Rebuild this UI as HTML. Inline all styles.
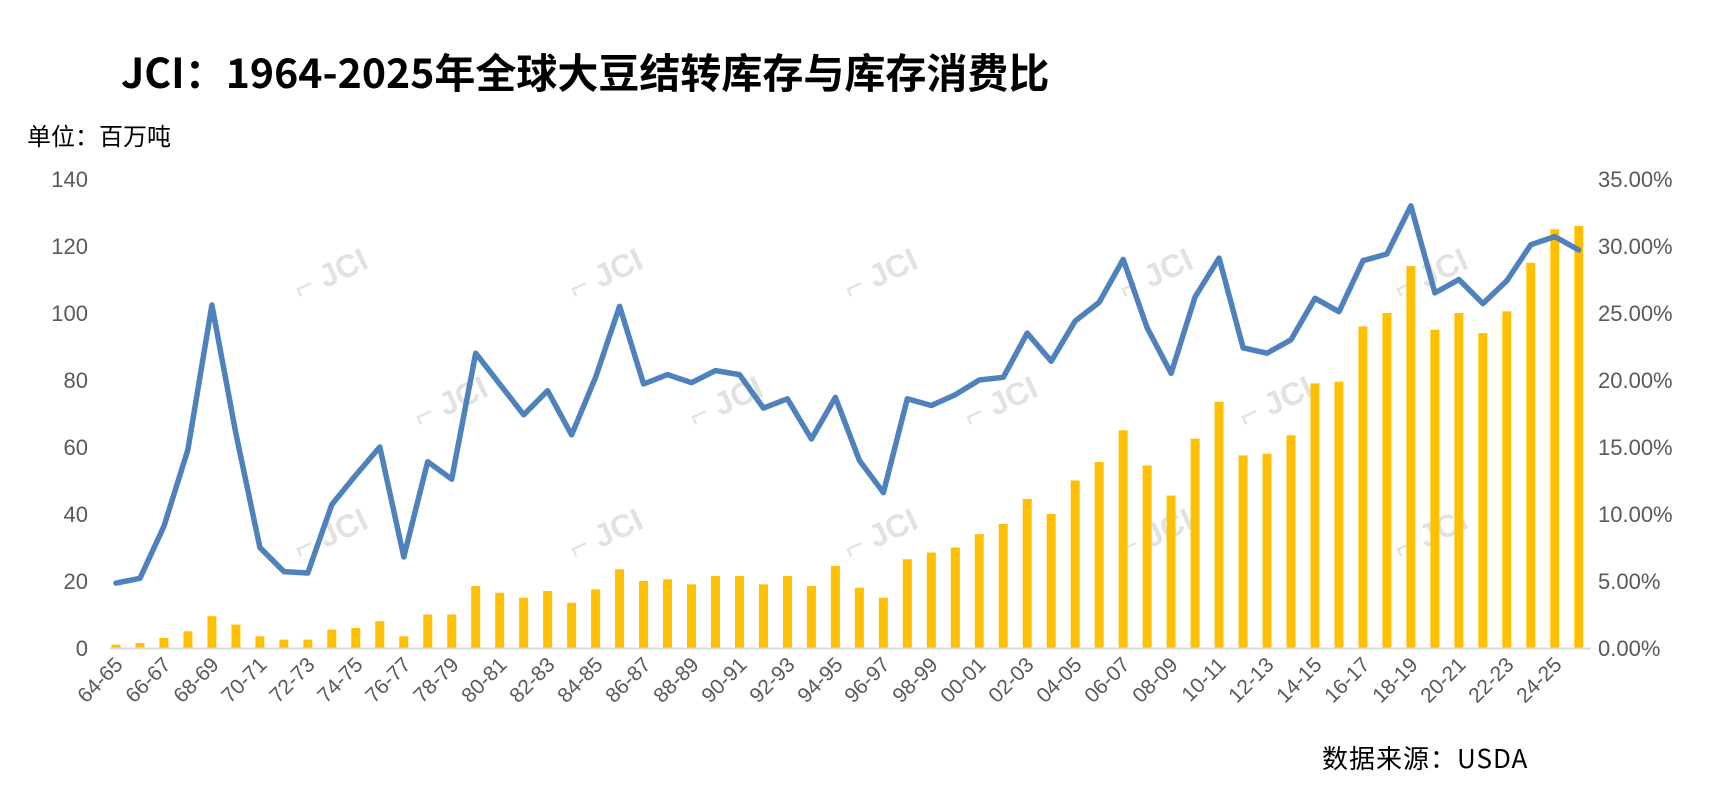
<!DOCTYPE html>
<html><head><meta charset="utf-8"><style>
body{margin:0;background:#fff;width:1714px;height:801px;overflow:hidden}
svg text{font-family:"Liberation Sans","Noto Sans CJK SC",sans-serif}
</style></head><body>
<svg id="s" width="1714" height="801" xmlns="http://www.w3.org/2000/svg">
<text x="121" y="88" font-size="41" font-weight="bold" fill="#000" style="font-family:'Noto Sans CJK SC',sans-serif">JCI：1964-2025年全球大豆结转库存与库存消费比</text>
<text x="27" y="145" font-size="24" fill="#000" style="font-family:'Noto Sans CJK SC',sans-serif">单位：百万吨</text>
<g font-size="32" fill="#e2e2e2" font-weight="bold">
<text transform="translate(300,300) rotate(-25)">⌐ JCI</text>
<text transform="translate(575,300) rotate(-25)">⌐ JCI</text>
<text transform="translate(850,300) rotate(-25)">⌐ JCI</text>
<text transform="translate(1125,300) rotate(-25)">⌐ JCI</text>
<text transform="translate(1400,300) rotate(-25)">⌐ JCI</text>
<text transform="translate(420,428) rotate(-25)">⌐ JCI</text>
<text transform="translate(695,428) rotate(-25)">⌐ JCI</text>
<text transform="translate(970,428) rotate(-25)">⌐ JCI</text>
<text transform="translate(1245,428) rotate(-25)">⌐ JCI</text>
<text transform="translate(300,560) rotate(-25)">⌐ JCI</text>
<text transform="translate(575,560) rotate(-25)">⌐ JCI</text>
<text transform="translate(850,560) rotate(-25)">⌐ JCI</text>
<text transform="translate(1125,560) rotate(-25)">⌐ JCI</text>
<text transform="translate(1400,560) rotate(-25)">⌐ JCI</text>
</g>
<g font-size="22" fill="#595959" text-anchor="end">
<text x="88" y="187">140</text><text x="88" y="254">120</text><text x="88" y="321">100</text>
<text x="88" y="388">80</text><text x="88" y="455">60</text><text x="88" y="522">40</text>
<text x="88" y="589">20</text><text x="88" y="656">0</text>
</g>
<g font-size="22" fill="#595959">
<text x="1598" y="187">35.00%</text><text x="1598" y="254">30.00%</text><text x="1598" y="321">25.00%</text>
<text x="1598" y="388">20.00%</text><text x="1598" y="455">15.00%</text><text x="1598" y="522">10.00%</text>
<text x="1598" y="589">5.00%</text><text x="1598" y="656">0.00%</text>
</g>
<g id="bars" fill="#ffc000"></g>
<line x1="110" y1="648.5" x2="1591" y2="648.5" stroke="#d9d9d9" stroke-width="2"/>
<polyline id="ln" fill="none" stroke="#4f81bd" stroke-width="5.5" stroke-linejoin="round" stroke-linecap="round"/>
<g font-size="21" fill="#595959" text-anchor="end">
<text transform="translate(124,666) rotate(-45)">64-65</text>
<text transform="translate(172,666) rotate(-45)">66-67</text>
<text transform="translate(220,666) rotate(-45)">68-69</text>
<text transform="translate(268,666) rotate(-45)">70-71</text>
<text transform="translate(316,666) rotate(-45)">72-73</text>
<text transform="translate(364,666) rotate(-45)">74-75</text>
<text transform="translate(412,666) rotate(-45)">76-77</text>
<text transform="translate(460,666) rotate(-45)">78-79</text>
<text transform="translate(508,666) rotate(-45)">80-81</text>
<text transform="translate(556,666) rotate(-45)">82-83</text>
<text transform="translate(604,666) rotate(-45)">84-85</text>
<text transform="translate(652,666) rotate(-45)">86-87</text>
<text transform="translate(700,666) rotate(-45)">88-89</text>
<text transform="translate(748,666) rotate(-45)">90-91</text>
<text transform="translate(796,666) rotate(-45)">92-93</text>
<text transform="translate(844,666) rotate(-45)">94-95</text>
<text transform="translate(891,666) rotate(-45)">96-97</text>
<text transform="translate(939,666) rotate(-45)">98-99</text>
<text transform="translate(987,666) rotate(-45)">00-01</text>
<text transform="translate(1035,666) rotate(-45)">02-03</text>
<text transform="translate(1083,666) rotate(-45)">04-05</text>
<text transform="translate(1131,666) rotate(-45)">06-07</text>
<text transform="translate(1179,666) rotate(-45)">08-09</text>
<text transform="translate(1227,666) rotate(-45)">10-11</text>
<text transform="translate(1275,666) rotate(-45)">12-13</text>
<text transform="translate(1323,666) rotate(-45)">14-15</text>
<text transform="translate(1371,666) rotate(-45)">16-17</text>
<text transform="translate(1419,666) rotate(-45)">18-19</text>
<text transform="translate(1467,666) rotate(-45)">20-21</text>
<text transform="translate(1515,666) rotate(-45)">22-23</text>
<text transform="translate(1563,666) rotate(-45)">24-25</text>
</g>
<text x="1322" y="768" font-size="26" fill="#000" letter-spacing="1" style="font-family:'Noto Sans CJK SC',sans-serif">数据来源：USDA</text>
</svg>
<script>
var b=[1,1.5,3,5,9.5,7,3.5,2.5,2.5,5.5,6,8,3.5,10,10,18.5,16.5,15,17,13.5,17.5,23.5,20,20.5,19,21.5,21.5,19,21.5,18.5,24.5,18,15,26.5,28.5,30,34,37,44.5,40,50,55.5,65,54.5,45.5,62.5,73.5,57.5,58,63.5,79,79.5,96,100,114,95,100,94,100.5,115,125,126];
var p=[4.84,5.2,9.1,14.8,25.6,16,7.5,5.7,5.6,10.7,12.9,15,6.8,13.9,12.6,22,19.7,17.4,19.2,15.9,20.2,25.5,19.7,20.4,19.8,20.7,20.4,17.9,18.6,15.6,18.7,14,11.6,18.6,18.1,18.9,20,20.2,23.5,21.4,24.4,25.8,29,23.9,20.5,26.2,29.1,22.4,22,23,26.1,25.1,28.9,29.4,33,26.5,27.5,25.7,27.4,30.1,30.7,29.7];
var g=document.getElementById('bars'),ns='http://www.w3.org/2000/svg',pts=[];
for(var i=0;i<b.length;i++){var x=116+23.98*i;var r=document.createElementNS(ns,'rect');var h=b[i]*3.35;
r.setAttribute('x',x-4.5);r.setAttribute('y',648-h);r.setAttribute('width',9);r.setAttribute('height',h);g.appendChild(r);
pts.push(x.toFixed(1)+','+(648-p[i]*13.4).toFixed(1));}
document.getElementById('ln').setAttribute('points',pts.join(' '));
</script>
</body></html>
